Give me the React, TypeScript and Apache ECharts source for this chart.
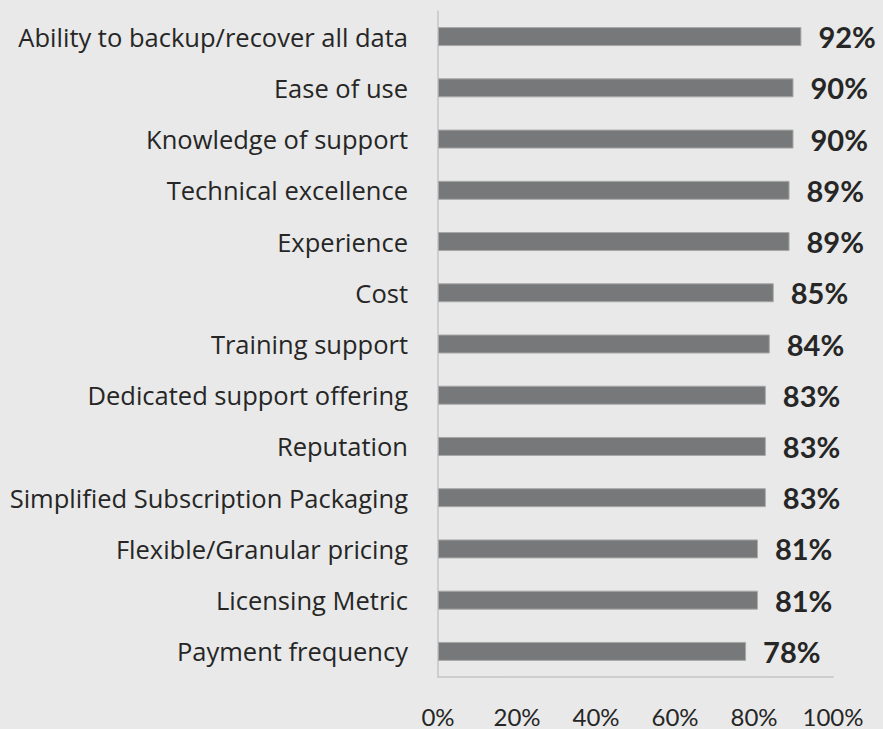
import React, { useEffect, useRef } from "react";
import * as echarts from "echarts";

const categories = [
  "Ability to backup/recover all data",
  "Ease of use",
  "Knowledge of support",
  "Technical excellence",
  "Experience",
  "Cost",
  "Training support",
  "Dedicated support offering",
  "Reputation",
  "Simplified Subscription Packaging",
  "Flexible/Granular pricing",
  "Licensing Metric",
  "Payment frequency",
];
const values = [92, 90, 90, 89, 89, 85, 84, 83, 83, 83, 81, 81, 78];
const xTicks = [0, 20, 40, 60, 80, 100];

export default function App() {
  const ref = useRef<HTMLDivElement>(null);
  useEffect(() => {
    const chart = echarts.init(ref.current!, null, { renderer: "svg" });
    chart.setOption({
      animation: false,
      backgroundColor: "#e8e9e8",
      grid: { left: 438, right: 50, top: 11, bottom: 52 },
      xAxis: {
        type: "value",
        min: xTicks[0],
        max: xTicks[xTicks.length - 1],
        interval: 20,
        axisLine: { show: true, lineStyle: { color: "#c4c4c4", width: 1.5 } },
        axisTick: { show: false },
        splitLine: { show: false },
        axisLabel: {
          formatter: (v: number) => v + "%",
          fontFamily: "Lato",
          fontSize: 24,
          lineHeight: 24,
          color: "#262626",
          margin: 27,
        },
      },
      yAxis: {
        type: "category",
        data: categories,
        inverse: true,
        axisLine: { show: true, lineStyle: { color: "#c4c4c4", width: 1.5 } },
        axisTick: { show: false },
        axisLabel: {
          fontFamily: "Open Sans",
          fontSize: 25.5,
          color: "#262626",
          margin: 30,
        },
      },
      series: [
        {
          type: "bar",
          data: values,
          barWidth: 19,
          itemStyle: { color: "#77787a", borderColor: "#a8a8a8", borderWidth: 1 },
          label: {
            show: true,
            position: "right",
            distance: 17,
            formatter: "{c}%",
            fontFamily: "Lato",
            fontWeight: "bold",
            fontSize: 29,
            color: "#262626",
          },
        },
      ],
    });
    return () => chart.dispose();
  }, []);
  return <div ref={ref} style={{ width: 883, height: 729, position: "absolute", left: 0, top: 0 }} />;
}
